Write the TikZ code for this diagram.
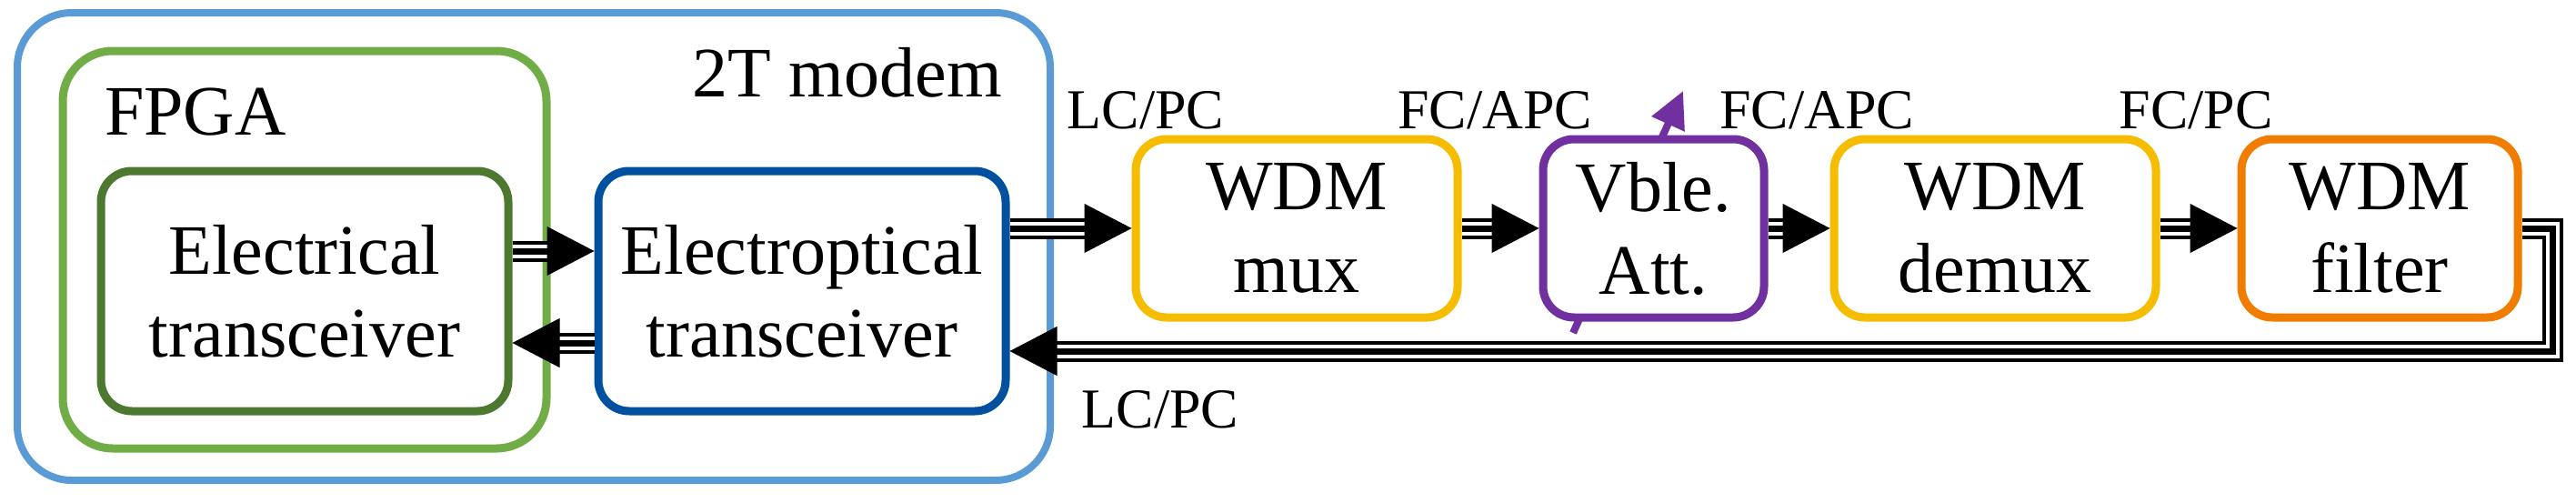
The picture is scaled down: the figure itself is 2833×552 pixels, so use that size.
\documentclass[tikz,border=0pt]{standalone}
\usepackage{fontspec}
\setmainfont{Liberation Serif}
\usetikzlibrary{arrows.meta}
\definecolor{cmodem}{RGB}{91,155,213}
\definecolor{cfpga}{RGB}{112,173,71}
\definecolor{celec}{RGB}{76,120,48}
\definecolor{ceo}{RGB}{0,80,160}
\definecolor{cyel}{RGB}{245,188,0}
\definecolor{cpur}{RGB}{112,48,160}
\definecolor{corg}{RGB}{240,125,0}
\begin{document}
\begin{tikzpicture}[x=1pt,y=-1pt,
  box/.style={draw,rectangle,rounded corners=34pt,line width=9pt,fill=white,align=center,
    font=\fontsize{78}{91}\selectfont,inner sep=0pt},
  lab/.style={font=\fontsize{62}{70}\selectfont,anchor=base,inner sep=0pt},
  tri/.style={line width=23pt,draw=black,line join=miter,
    postaction={draw=white,line width=15pt},
    postaction={draw=black,line width=7pt}},
  tip/.style={line width=1pt,-{Triangle[length=52pt,width=54pt]}}]
\useasboundingbox (0,0) rectangle (2833,552);
% containers
\node[draw=cmodem,rectangle,rounded corners=60pt,line width=8pt,minimum width=1136pt,minimum height=514pt,inner sep=0pt] (modem) at (587,271) {};
\node[draw=cfpga,rectangle,rounded corners=55pt,line width=9pt,minimum width=532pt,minimum height=437pt,inner sep=0pt] (fpga) at (335,274.5) {};
\node[font=\fontsize{78}{91}\selectfont,anchor=base east,inner sep=0pt] (tmodem) at (1102,106) {2T modem};
\node[font=\fontsize{78}{91}\selectfont,anchor=base west,inner sep=0pt] (tfpga) at (115,148) {FPGA};
% purple arrow behind attenuator
\coordinate (pa) at (1730,366);
\coordinate (pb) at (1851,100);
\draw[cpur,line width=8pt,-{Triangle[length=40pt,width=38pt]}] (pa) -- (pb);
% boxes
\node[box,draw=celec,minimum width=448pt,minimum height=264pt] (el) at (335,320) {Electrical\\transceiver};
\node[box,draw=ceo,minimum width=448pt,minimum height=264pt] (eo) at (882,320) {Electroptical\\transceiver};
\node[box,draw=cyel,minimum width=354pt,minimum height=196pt] (mux) at (1426,251) {WDM\\mux};
\node[box,draw=cpur,minimum width=243pt,minimum height=196pt] (att) at (1818.5,251) {Vble.\\Att.};
\node[box,draw=cyel,minimum width=354pt,minimum height=196pt] (demux) at (2194,251) {WDM\\demux};
\node[box,draw=corg,minimum width=304pt,minimum height=196pt] (filt) at (2617,251) {WDM\\filter};
% helper coordinates
\coordinate (ya) at (0,276);
\coordinate (yb) at (0,377);
\coordinate (yr) at (0,386);
\coordinate (c1) at (2807,251);
\coordinate (c2) at (2807,386);
% connectors
\draw[tri,shorten >=48pt] (el.east |- ya) -- (eo.west |- ya);
\draw[tip] (el.east |- ya) -- (eo.west |- ya);
\draw[tri,shorten >=48pt] (eo.west |- yb) -- (el.east |- yb);
\draw[tip] (eo.west |- yb) -- (el.east |- yb);
\draw[tri,shorten >=48pt] (eo.east |- mux.west) -- (mux.west);
\draw[tip] (eo.east |- mux.west) -- (mux.west);
\draw[tri,shorten >=48pt] (mux.east) -- (att.west);
\draw[tip] (mux.east) -- (att.west);
\draw[tri,shorten >=48pt] (att.east) -- (demux.west);
\draw[tip] (att.east) -- (demux.west);
\draw[tri,shorten >=48pt] (demux.east) -- (filt.west);
\draw[tip] (demux.east) -- (filt.west);
\draw[tri,shorten >=48pt] (filt.east) -- (c1) -- (c2) -- (eo.east |- yr);
\draw[tip] ([xshift=-60pt]eo.east |- yr) ++(60,0) coordinate (rt) (c2 -| 1300,0) -- (eo.east |- yr);
% labels
\node[lab] (l1) at (1260,141) {LC/PC};
\node[lab] (l2) at (1644,141) {FC/APC};
\node[lab] (l3) at (1998,141) {FC/APC};
\node[lab] (l4) at (2415,141) {FC/PC};
\node[lab] (l5) at (1276,470) {LC/PC};
\end{tikzpicture}
\end{document}
